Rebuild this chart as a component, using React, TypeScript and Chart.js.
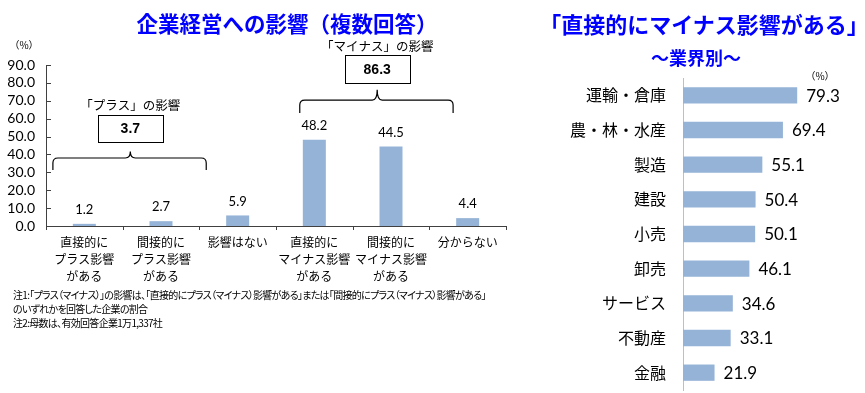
import React, { useEffect, useRef } from "react";
import { Chart, registerables } from "chart.js";

Chart.register(...registerables);

// ---------- data ----------
const impactCategories: string[][] = [
  ["直接的に", "プラス影響", "がある"],
  ["間接的に", "プラス影響", "がある"],
  ["影響はない"],
  ["直接的に", "マイナス影響", "がある"],
  ["間接的に", "マイナス影響", "がある"],
  ["分からない"],
];
const impactValues = [1.2, 2.7, 5.9, 48.2, 44.5, 4.4];
const impactAxisMax = 90;
const impactAxisStep = 10;
const groupNames = ["「プラス」の影響", "「マイナス」の影響"];
const groupTotals = [3.7, 86.3];

const industries = ["運輸・倉庫", "農・林・水産", "製造", "建設", "小売", "卸売", "サービス", "不動産", "金融"];
const industryValues = [79.3, 69.4, 55.1, 50.4, 50.1, 46.1, 34.6, 33.1, 21.9];
const industryAxisMax = 100;

const noteLines = [
  "注1:「プラス（マイナス）」の影響は、「直接的にプラス（マイナス）影響がある」または「間接的にプラス（マイナス）影響がある」",
  "のいずれかを回答した企業の割合",
  "注2:母数は、有効回答企業1万1,337社",
];

// ---------- style / layout ----------
const BAR_COLOR = "#95B3D7";
const AXIS_COLOR = "#404040";
const JP = '"Noto Sans CJK JP", sans-serif';
const NUM = 'Lato, "Noto Sans CJK JP", sans-serif';
const TITLE_BLUE = "#0000FF";

// bracket annotation geometry in category-index / value units
const bracketLayout = [
  { from: -0.41, to: 1.59, peak: 0.6, base: 31.3, line: 38, top: 41.6, boxTop: 62, boxBottom: 47, boxHalf: 0.425, labelY: 67.6 },
  { from: 2.81, to: 4.81, peak: 3.82, base: 63.2, line: 70.4, top: 76.2, boxTop: 95.6, boxBottom: 80, boxHalf: 0.425, labelY: 100.5 },
];

const leftPlugin = {
  id: "leftDecor",
  afterDatasetsDraw(chart: any) {
    const ctx = chart.ctx;
    const x = chart.scales.x;
    const y = chart.scales.y;
    const area = chart.chartArea;
    ctx.save();
    ctx.strokeStyle = AXIS_COLOR;
    ctx.lineWidth = 1;
    // inside tick marks on the y axis
    y.ticks.forEach((t: any) => {
      const py = Math.round(y.getPixelForValue(t.value)) + 0.5;
      ctx.beginPath();
      ctx.moveTo(area.left, py);
      ctx.lineTo(area.left + 5, py);
      ctx.stroke();
    });
    // outside tick marks at category boundaries on the x axis
    for (let i = 0; i <= impactValues.length; i++) {
      const px = Math.round(x.getPixelForValue(i - 0.5)) + 0.5;
      ctx.beginPath();
      ctx.moveTo(px, area.bottom);
      ctx.lineTo(px, area.bottom + 4);
      ctx.stroke();
    }
    // value labels
    const meta = chart.getDatasetMeta(0);
    ctx.fillStyle = "#000";
    ctx.font = "13px " + NUM;
    ctx.textAlign = "center";
    ctx.textBaseline = "middle";
    meta.data.forEach((bar: any, i: number) => {
      ctx.fillText(impactValues[i].toFixed(1), bar.x, bar.y - 14);
    });
    // brackets
    bracketLayout.forEach((b, i) => {
      const xl = x.getPixelForValue(b.from);
      const xr = x.getPixelForValue(b.to);
      const xp = x.getPixelForValue(b.peak);
      const yb = y.getPixelForValue(b.base);
      const yl = y.getPixelForValue(b.line);
      const yt = y.getPixelForValue(b.top);
      const r = 5;
      ctx.strokeStyle = "#000";
      ctx.lineWidth = 1.2;
      ctx.beginPath();
      ctx.moveTo(xl, yb);
      ctx.lineTo(xl, yl + r);
      ctx.quadraticCurveTo(xl, yl, xl + r, yl);
      ctx.lineTo(xp - r, yl);
      ctx.quadraticCurveTo(xp, yl, xp, yt);
      ctx.quadraticCurveTo(xp, yl, xp + r, yl);
      ctx.lineTo(xr - r, yl);
      ctx.quadraticCurveTo(xr, yl, xr, yl + r);
      ctx.lineTo(xr, yb);
      ctx.stroke();
      // box
      const bx1 = x.getPixelForValue(b.peak - b.boxHalf);
      const bx2 = x.getPixelForValue(b.peak + b.boxHalf);
      const by1 = y.getPixelForValue(b.boxTop);
      const by2 = y.getPixelForValue(b.boxBottom);
      ctx.fillStyle = "#fff";
      ctx.fillRect(bx1, by1, bx2 - bx1, by2 - by1);
      ctx.lineWidth = 1;
      ctx.strokeRect(Math.round(bx1) + 0.5, Math.round(by1) + 0.5, Math.round(bx2 - bx1), Math.round(by2 - by1));
      ctx.fillStyle = "#000";
      ctx.font = 'bold 14px "Liberation Sans", Arial, sans-serif';
      ctx.textAlign = "center";
      ctx.textBaseline = "middle";
      ctx.fillText(groupTotals[i].toFixed(1), xp, (by1 + by2) / 2 + 1);
      ctx.font = "12.5px " + JP;
      ctx.fillText(groupNames[i], xp, y.getPixelForValue(b.labelY));
    });
    ctx.restore();
  },
};

const rightPlugin = {
  id: "rightDecor",
  afterDatasetsDraw(chart: any) {
    const ctx = chart.ctx;
    const meta = chart.getDatasetMeta(0);
    ctx.save();
    ctx.fillStyle = "#000";
    ctx.font = "17px " + NUM;
    ctx.textAlign = "left";
    ctx.textBaseline = "middle";
    meta.data.forEach((bar: any, i: number) => {
      ctx.fillText(industryValues[i].toFixed(1), bar.x + 9, bar.y + 1);
    });
    ctx.restore();
  },
};

function LeftChart() {
  const ref = useRef<HTMLCanvasElement | null>(null);
  useEffect(() => {
    const chart = new Chart(ref.current as HTMLCanvasElement, {
      type: "bar",
      data: {
        labels: impactCategories,
        datasets: [
          {
            data: impactValues,
            backgroundColor: BAR_COLOR,
            borderWidth: 0,
            categoryPercentage: 1,
            barPercentage: 0.3,
          },
        ],
      },
      options: {
        responsive: false,
        animation: false,
        devicePixelRatio: 1,
        layout: { padding: { left: 0, right: 54, top: 65, bottom: 0 } },
        plugins: { legend: { display: false }, tooltip: { enabled: false }, title: { display: false } },
        scales: {
          x: {
            offset: true,
            grid: { display: false, drawTicks: false },
            border: { display: true, color: AXIS_COLOR, width: 1 },
            ticks: {
              color: "#000",
              font: { family: JP, size: 12, lineHeight: 17 / 12 },
              padding: 8,
              maxRotation: 0,
              autoSkip: false,
            },
            afterFit: (s: any) => {
              s.height = 64;
            },
          },
          y: {
            min: 0,
            max: impactAxisMax,
            grid: { display: false, drawTicks: false },
            border: { display: true, color: AXIS_COLOR, width: 1 },
            ticks: {
              stepSize: impactAxisStep,
              autoSkip: false,
              color: "#000",
              font: { family: NUM, size: 14 },
              padding: 11,
              callback: (v: any) => Number(v).toFixed(1),
            },
            afterFit: (s: any) => {
              s.width = 46;
              s.paddingTop = 0;
              s.paddingBottom = 0;
            },
          },
        },
      },
      plugins: [leftPlugin],
    });
    return () => chart.destroy();
  }, []);
  return (
    <canvas
      ref={ref}
      width={560}
      height={290}
      style={{ position: "absolute", left: 0, top: 0, width: 560, height: 290 }}
    />
  );
}

function RightChart() {
  const ref = useRef<HTMLCanvasElement | null>(null);
  useEffect(() => {
    const chart = new Chart(ref.current as HTMLCanvasElement, {
      type: "bar",
      data: {
        labels: industries,
        datasets: [
          {
            data: industryValues,
            backgroundColor: BAR_COLOR,
            borderWidth: 0,
            categoryPercentage: 1,
            barPercentage: 0.47,
          },
        ],
      },
      options: {
        indexAxis: "y",
        responsive: false,
        animation: false,
        devicePixelRatio: 1,
        layout: { padding: { left: 0, right: 38, top: 8, bottom: 3 } },
        plugins: { legend: { display: false }, tooltip: { enabled: false }, title: { display: false } },
        scales: {
          x: { display: false, min: 0, max: industryAxisMax },
          y: {
            grid: { display: false, drawTicks: false },
            border: { display: true, color: "#BFBFBF", width: 1 },
            ticks: {
              color: "#000",
              font: { family: JP, size: 16 },
              padding: 17,
              autoSkip: false,
            },
            afterFit: (s: any) => {
              s.width = 123;
              s.paddingTop = 0;
              s.paddingBottom = 0;
            },
          },
        },
      },
      plugins: [rightPlugin],
    });
    return () => chart.destroy();
  }, []);
  return (
    <canvas
      ref={ref}
      width={305}
      height={323}
      style={{ position: "absolute", left: 560, top: 70, width: 305, height: 323 }}
    />
  );
}

function Label(props: {
  x: number;
  y: number;
  text: string;
  size: number;
  bold?: boolean;
  color?: string;
  align?: "left" | "center";
  palt?: boolean;
  spacing?: number;
}) {
  const { x, y, text, size, bold, color, align, palt, spacing } = props;
  const top = y - 0.556 * size;
  const base: React.CSSProperties = {
    position: "absolute",
    top,
    fontSize: size,
    lineHeight: size + "px",
    fontWeight: bold ? 700 : 400,
    color: color || "#000",
    fontFamily: JP,
    whiteSpace: "nowrap",
    fontFeatureSettings: palt ? '"palt"' : "normal",
    letterSpacing: spacing ? spacing + "px" : "normal",
  };
  if (align === "center") {
    return <div style={{ ...base, left: x - 300, width: 600, textAlign: "center" }}>{text}</div>;
  }
  return <div style={{ ...base, left: x }}>{text}</div>;
}

export default function App() {
  return (
    <div
      style={{
        position: "fixed",
        left: 0,
        top: 0,
        width: 865,
        height: 393,
        background: "#fff",
        overflow: "hidden",
      }}
    >
      <LeftChart />
      <RightChart />
      <Label x={287} y={24} text="企業経営への影響（複数回答）" size={21.5} bold color={TITLE_BLUE} align="center" />
      <Label x={704} y={24} text="「直接的にマイナス影響がある」" size={22} bold color={TITLE_BLUE} align="center" />
      <Label x={696} y={58} text="～業界別～" size={18} bold color={TITLE_BLUE} align="center" />
      <Label x={24} y={46} text="（%）" size={10} align="center" />
      <Label x={820} y={77} text="（%）" size={10} align="center" />
      {noteLines.map((t, i) => (
        <Label key={i} x={13} y={[296, 310, 324][i]} text={t} size={10} palt spacing={-0.7} />
      ))}
    </div>
  );
}
